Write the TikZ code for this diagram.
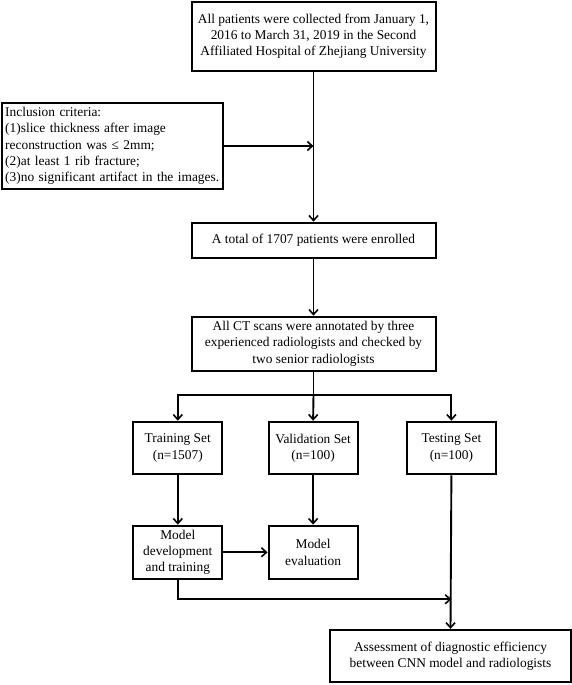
\documentclass[tikz,border=0pt]{standalone}
\usepackage{fontspec}
\setmainfont{Liberation Serif}
\usetikzlibrary{arrows.meta}
\begin{document}
\begin{tikzpicture}[x=1pt,y=-1pt,
  box/.style={draw,line width=2pt,inner sep=0pt,align=center,font=\fontsize{13.4}{16.3}\selectfont},
  conn/.style={line width=1.9pt,-{Straight Barb[length=5pt,width=9pt,line width=1.6pt]}},
  plain/.style={line width=1.9pt}]
\useasboundingbox (0,0) rectangle (572,685);
\node[box,minimum width=244pt,minimum height=69pt] (top) at (313.5,36.4)
  {All patients were collected from January 1,\\2016 to March 31, 2019 in the Second\\Affiliated Hospital of Zhejiang University};
\node[box,minimum width=221pt,minimum height=86pt,align=left,text width=214pt] (incl) at (112.2,146)
  {Inclusion criteria:\\(1)slice thickness after image\\reconstruction was ≤ 2mm;\\(2)at least 1 rib fracture;\\(3)no significant artifact in the images.};
\node[box,minimum width=244pt,minimum height=35pt] (enr) at (313.5,240.2)
  {A total of 1707 patients were enrolled};
\node[box,minimum width=244pt,minimum height=54pt] (ct) at (313.5,343.7)
  {All CT scans were annotated by three\\experienced radiologists and checked by\\two senior radiologists};
\node[box,minimum width=89pt,minimum height=52.6pt] (train) at (177.8,448)
  {Training Set\\(n=1507)};
\node[box,minimum width=89pt,minimum height=52.6pt] (val) at (313.1,448)
  {Validation Set\\(n=100)};
\node[box,minimum width=89pt,minimum height=52.6pt] (test) at (451.4,448)
  {Testing Set\\(n=100)};
\node[box,minimum width=89pt,minimum height=53.3pt] (dev) at (177.8,552.3)
  {Model\\development\\and training};
\node[box,minimum width=89pt,minimum height=53.3pt] (eval) at (313.1,552.3)
  {Model\\evaluation};
\node[box,minimum width=241pt,minimum height=52.3pt] (final) at (450.5,656)
  {Assessment of diagnostic efficiency\\between CNN model and radiologists};
\coordinate (j1) at (top.south |- incl.east);
\coordinate (br) at (ct.south |- 0,395);
\coordinate (bl) at (train.north |- br);
\coordinate (brr) at (test.north |- br);
\coordinate (dl) at (dev.south |- 0,599.3);
\coordinate (dr) at (test.south |- dl);
\draw[conn] (top.south) -- (enr.north);
\draw[conn] (incl.east) -- (j1);
\draw[conn] (enr.south) -- (ct.north);
\draw[plain] (ct.south) -- (br);
\draw[plain,line cap=rect] (bl) -- (brr);
\draw[conn] (br) -- (val.north);
\draw[conn] (bl) -- (train.north);
\draw[conn] (brr) -- (test.north);
\draw[conn] (train.south) -- (dev.north);
\draw[conn] (val.south) -- (eval.north);
\draw[conn] (dev.east) -- (eval.west);
\draw[conn] (dev.south) -- (dl) -- (dr);
\draw[conn] (test.south) -- (final.north);
\end{tikzpicture}
\end{document}
